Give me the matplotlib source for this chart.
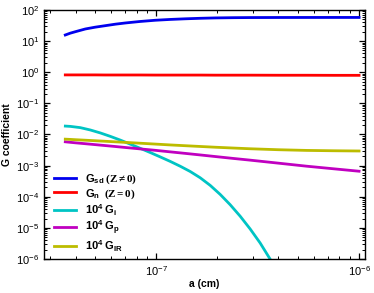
import matplotlib
matplotlib.use('Agg')
import matplotlib.pyplot as plt
from matplotlib.ticker import LogLocator, NullFormatter

plt.rcParams['font.family'] = ['Liberation Sans', 'DejaVu Sans']
plt.rcParams['mathtext.fontset'] = 'custom'
plt.rcParams['mathtext.rm'] = 'Liberation Serif'
plt.rcParams['mathtext.it'] = 'Liberation Serif:italic'
plt.rcParams['mathtext.bf'] = 'Liberation Sans:bold'
plt.rcParams['mathtext.sf'] = 'Liberation Serif:bold'

# grain size a (cm) for the smooth curves
a_cm = [3.56e-8, 3.77e-8, 3.99e-8, 4.47e-8, 5.0e-8, 5.61e-8, 6.3e-8, 7.04e-8,
        8.3e-8, 9.89e-8, 1.17e-7, 1.39e-7, 1.65e-7, 1.95e-7, 2.4e-7, 2.9e-7,
        4.0e-7, 5.5e-7, 7.5e-7, 1.0e-6]

G_sd = [15.7, 18, 20, 24.5, 28, 31.3, 35, 38.2, 42.6, 46.7, 49.6, 52, 54,
        55.5, 56.5, 57, 57.3, 57.4, 57.5, 57.5]
G_n = [0.82, 0.82, 0.82, 0.82, 0.82, 0.815, 0.815, 0.815, 0.815, 0.81, 0.81,
       0.81, 0.81, 0.805, 0.805, 0.805, 0.80, 0.80, 0.795, 0.795]
G_p = [5.82e-3, 5.6e-3, 5.4e-3, 5.05e-3, 4.72e-3, 4.4e-3, 4.1e-3, 3.82e-3,
       3.45e-3, 3.1e-3, 2.77e-3, 2.47e-3, 2.2e-3, 1.96e-3, 1.7e-3, 1.5e-3,
       1.2e-3, 9.6e-4, 7.9e-4, 6.6e-4]
G_IR = [7.08e-3, 6.95e-3, 6.8e-3, 6.55e-3, 6.3e-3, 6.05e-3, 5.8e-3, 5.58e-3,
        5.25e-3, 4.92e-3, 4.62e-3, 4.36e-3, 4.12e-3, 3.9e-3, 3.67e-3, 3.48e-3,
        3.24e-3, 3.08e-3, 3.0e-3, 2.95e-3]

# G_i falls out of the frame, sampled on its own grid
a_i = [3.562e-8, 3.771e-8, 4.222e-8, 4.729e-8, 5.297e-8, 5.935e-8, 6.647e-8,
       7.443e-8, 8.342e-8, 9.341e-8, 1.046e-7, 1.172e-7, 1.313e-7, 1.471e-7,
       1.647e-7, 1.845e-7, 2.066e-7, 2.314e-7, 2.593e-7, 2.904e-7, 3.253e-7,
       3.644e-7, 4.081e-7]
G_i = [1.862e-2, 1.820e-2, 1.660e-2, 1.396e-2, 1.122e-2, 8.71e-3, 6.61e-3,
       4.90e-3, 3.59e-3, 2.63e-3, 1.905e-3, 1.365e-3, 9.55e-4, 6.46e-4,
       4.07e-4, 2.32e-4, 1.19e-4, 5.56e-5, 2.37e-5, 9.23e-6, 3.27e-6,
       9.89e-7, 2.60e-7]

fig = plt.figure(figsize=(3.74, 2.93), dpi=100)
ax = fig.add_axes([0.118, 0.116, 0.858, 0.85])

lw = 2.0
ax.plot(a_cm, G_sd, color='#0000ee', lw=lw, label=r'$\mathbf{G_{sd}}\ \mathsf{(Z \neq 0)}$')
ax.plot(a_cm, G_n, color='#ff0000', lw=lw, label=r'$\mathbf{G_{n}}\ \ \mathsf{(Z = 0)}$')
ax.plot(a_i, G_i, color='#00c4c4', lw=lw, label=r'$\mathbf{10^4\ G_i}$')
ax.plot(a_cm, G_p, color='#c000c0', lw=lw, label=r'$\mathbf{10^4\ G_p}$')
ax.plot(a_cm, G_IR, color='#bcbc00', lw=lw, label=r'$\mathbf{10^4\ G_{IR}}$')

ax.set_xscale('log')
ax.set_yscale('log')
ax.set_xlim(2.8e-8, 1.07e-6)
ax.set_ylim(1e-6, 1e2)

ax.yaxis.set_major_locator(LogLocator(base=10, numticks=20))
ax.yaxis.set_minor_locator(LogLocator(base=10, subs=range(2, 10), numticks=20))
ax.yaxis.set_minor_formatter(NullFormatter())
ax.xaxis.set_minor_formatter(NullFormatter())

ax.tick_params(which='both', direction='in', top=True, right=True, labelsize=8)
ax.tick_params(which='major', length=4.5, width=0.9)
ax.tick_params(which='minor', length=2.5, width=0.7)
for s in ax.spines.values():
    s.set_linewidth(1.0)

ax.set_xlabel('a (cm)', fontsize=7.5, fontweight='bold', labelpad=1)
ax.set_ylabel('G coefficient', fontsize=7.5, fontweight='bold', labelpad=3)

ax.legend(loc='lower left', bbox_to_anchor=(0.016, 0.0), frameon=False,
          fontsize=8, handlelength=2.0, labelspacing=0.12, borderaxespad=0.05,
          handletextpad=0.8)

plt.savefig('out.png', dpi=100)
